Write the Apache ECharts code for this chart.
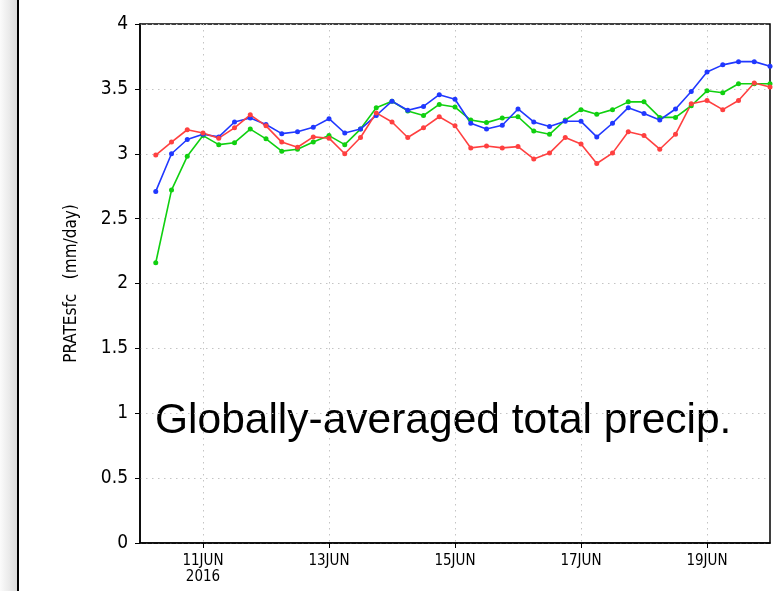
<!DOCTYPE html>
<html>
<head>
<meta charset="utf-8">
<script src="https://cdn.jsdelivr.net/npm/echarts@6/dist/echarts.min.js"></script>
<style>
  html, body { margin: 0; padding: 0; background: #fff; }
  #chart { width: 784px; height: 591px; }
</style>
</head>
<body>
<div id="chart"></div>
<script>
// hours since 10JUN2016 00Z, one point every 6h (10JUN06Z .. 20JUN00Z)
const hours = [];
for (let h = 6; h <= 240; h += 6) hours.push(h);

const tickHours = [24, 72, 120, 168, 216];
const tickLabels = ['11JUN\n2016', '13JUN', '15JUN', '17JUN', '19JUN'];

const redVals = [
  2.99, 3.09, 3.185, 3.16, 3.12, 3.20, 3.30, 3.215, 3.09, 3.05,
  3.13, 3.12, 3.00, 3.125, 3.315, 3.245, 3.125, 3.20, 3.285, 3.215,
  3.045, 3.06, 3.045, 3.055, 2.96, 3.005, 3.125, 3.075, 2.925, 3.005,
  3.17, 3.14, 3.035, 3.15, 3.385, 3.41, 3.34, 3.41, 3.545, 3.515
];
const blueVals = [
  2.71, 3.00, 3.11, 3.15, 3.13, 3.245, 3.275, 3.225, 3.155, 3.17,
  3.205, 3.27, 3.16, 3.19, 3.295, 3.405, 3.335, 3.365, 3.455, 3.42,
  3.235, 3.19, 3.22, 3.345, 3.245, 3.21, 3.25, 3.25, 3.13, 3.235,
  3.355, 3.31, 3.26, 3.345, 3.48, 3.63, 3.685, 3.71, 3.71, 3.675
];
const greenVals = [
  2.16, 2.72, 2.98, 3.14, 3.07, 3.085, 3.19, 3.115, 3.02, 3.035,
  3.09, 3.14, 3.07, 3.19, 3.355, 3.405, 3.33, 3.295, 3.38, 3.36,
  3.26, 3.24, 3.275, 3.285, 3.175, 3.15, 3.26, 3.34, 3.305, 3.34,
  3.40, 3.40, 3.28, 3.28, 3.37, 3.485, 3.47, 3.54, 3.54, 3.54
];

const chart = echarts.init(document.getElementById('chart'));

const pairs = vals => hours.map((h, i) => [h, vals[i]]);
const labelFont = "'DejaVu Sans Condensed', 'DejaVu Sans', sans-serif";

const mkSeries = (name, vals, color) => ({
  name,
  type: 'line',
  data: pairs(vals),
  symbol: 'circle',
  symbolSize: 5,
  lineStyle: { width: 1.6, color },
  itemStyle: { color },
  animation: false
});

chart.setOption({
  backgroundColor: '#fff',
  animation: false,
  grid: {
    left: 140, right: 14, top: 24, bottom: 48,
    show: true, borderColor: '#000', borderWidth: 1.5, backgroundColor: 'transparent'
  },
  xAxis: {
    type: 'value',
    min: 0, max: 240,
    axisLine: { show: true, onZero: false, lineStyle: { color: '#000', width: 1.5 } },
    axisTick: { show: true, length: 5, customValues: tickHours, lineStyle: { color: '#000' } },
    axisLabel: {
      customValues: tickHours,
      margin: 10,
      color: '#000',
      fontFamily: labelFont,
      fontSize: 15,
      lineHeight: 16,
      formatter: v => tickLabels[tickHours.indexOf(v)]
    },
    splitLine: { show: true, lineStyle: { color: '#c4c4c4', type: [1.5, 4.5], width: 1 } }
  },
  yAxis: {
    type: 'value',
    min: 0, max: 4, interval: 0.5,
    name: 'PRATEsfc   (mm/day)',
    nameLocation: 'middle',
    nameGap: 60,
    nameTextStyle: { color: '#000', fontFamily: labelFont, fontSize: 17 },
    axisLine: { show: true, lineStyle: { color: '#000', width: 1.5 } },
    axisTick: { show: true, length: 5, lineStyle: { color: '#000' } },
    axisLabel: { margin: 12, color: '#000', fontFamily: labelFont, fontSize: 19 },
    splitLine: { show: true, lineStyle: { color: '#c4c4c4', type: [1.5, 4.5], width: 1 } }
  },
  series: [
    mkSeries('green', greenVals, '#10d010'),
    mkSeries('blue', blueVals, '#2038ff'),
    mkSeries('red', redVals, '#ff4040')
  ],
  graphic: [
    {
      type: 'rect',
      shape: { x: 0, y: 0, width: 17, height: 591 },
      style: {
        fill: new echarts.graphic.LinearGradient(0, 0, 1, 0, [
          { offset: 0, color: '#fbfbfb' },
          { offset: 1, color: '#dcdcdc' }
        ])
      },
      silent: true
    },
    {
      type: 'rect',
      shape: { x: 17, y: 0, width: 2, height: 591 },
      style: { fill: '#000' },
      silent: true
    },
    {
      type: 'text',
      left: 155,
      top: 400,
      style: {
        text: 'Globally-averaged total precip.',
        fill: '#000',
        font: "42.5px 'Liberation Sans', Arial, sans-serif"
      },
      silent: true
    }
  ]
});
</script>
</body>
</html>
